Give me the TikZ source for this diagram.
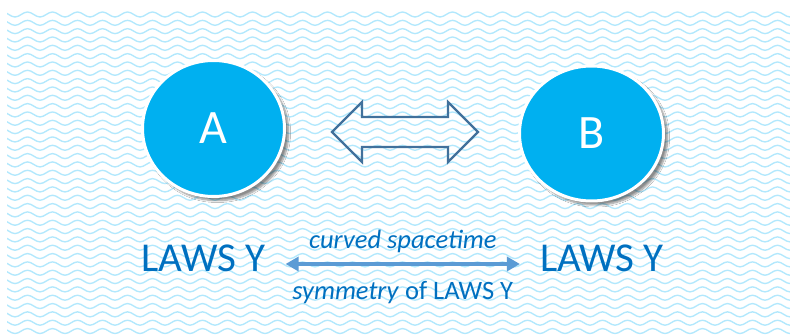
\documentclass[tikz,border=0pt]{standalone}
\usepackage{fontspec}
\setmainfont{Carlito}
\usetikzlibrary{shapes.geometric,shadows.blur,arrows.meta}
\definecolor{wave}{RGB}{178,232,253}
\definecolor{circ}{RGB}{0,176,240}
\definecolor{darrow}{RGB}{65,113,156}
\definecolor{txt}{RGB}{0,112,192}
\definecolor{lnk}{RGB}{91,155,213}
\begin{document}
\begin{tikzpicture}[x=1pt,y=-1pt,
  ball/.style={ellipse, fill=circ, draw=white, line width=3pt, inner sep=0pt,
    text=white, font=\fontsize{48}{50}\selectfont,
    blur shadow={shadow xshift=4pt, shadow yshift=-4pt, shadow opacity=45, shadow blur steps=8, shadow blur extra rounding=2pt}},
  laws/.style={text=txt, font=\fontsize{41}{44}\selectfont, anchor=base, inner sep=0pt},
  small/.style={text=txt, font=\fontsize{26.5}{29}\selectfont, anchor=base, inner sep=0pt},
  link/.style={draw=lnk, line width=3.3pt, {Triangle[length=13pt,width=14pt]}-{Triangle[length=13pt,width=14pt]}},
  wavy/.style={draw=wave, line width=1.35pt},
  dbl/.style={draw=darrow, line width=2.2pt, line join=miter}]
\useasboundingbox (0,0) rectangle (790,336);
\fill[white] (0,0) rectangle (790,336);
% background wave pattern
\begin{scope}
  \clip (7,11) rectangle (790,336);
  \foreach \k in {0,...,39}{
    \pgfmathsetmacro{\yy}{14.5+8.33*\k}
    \draw[wavy] (-9.999,\yy+2.5) \foreach \i in {1,...,33}{ cos ++(6.25,-2.5) sin ++(6.25,-2.5) cos ++(6.25,2.5) sin ++(6.25,2.5) };
  }
\end{scope}
% circles
\node[ball, minimum width=142pt, minimum height=136pt] (A) at (213.5,128.5) {A};
\node[ball, minimum width=144pt, minimum height=135pt] (B) at (591.5,133.5) {B};
% outlined double arrow between the circles
\draw[dbl] (332,132) -- (362,102) -- (362,117) -- (448,117) -- (448,102) -- (478,132)
  -- (448,162) -- (448,147) -- (362,147) -- (362,162) -- cycle;
% laws
\node[laws] (lawsA) at (203.5,272) {LAWS Y};
\node[laws] (lawsB) at (602,272) {LAWS Y};
\coordinate (p) at ([xshift=20pt]lawsA.base east |- 0,264);
\coordinate (q) at ([xshift=-20pt]lawsB.base west |- 0,264);
\draw[link] (p) -- node[small, pos=0.5, yshift=15pt] (cs) {\itshape curved spacetime}
  node[small, pos=0.5, yshift=-36pt] (sym) {\itshape symmetry\/\upshape{} of LAWS Y} (q);
\end{tikzpicture}
\end{document}
